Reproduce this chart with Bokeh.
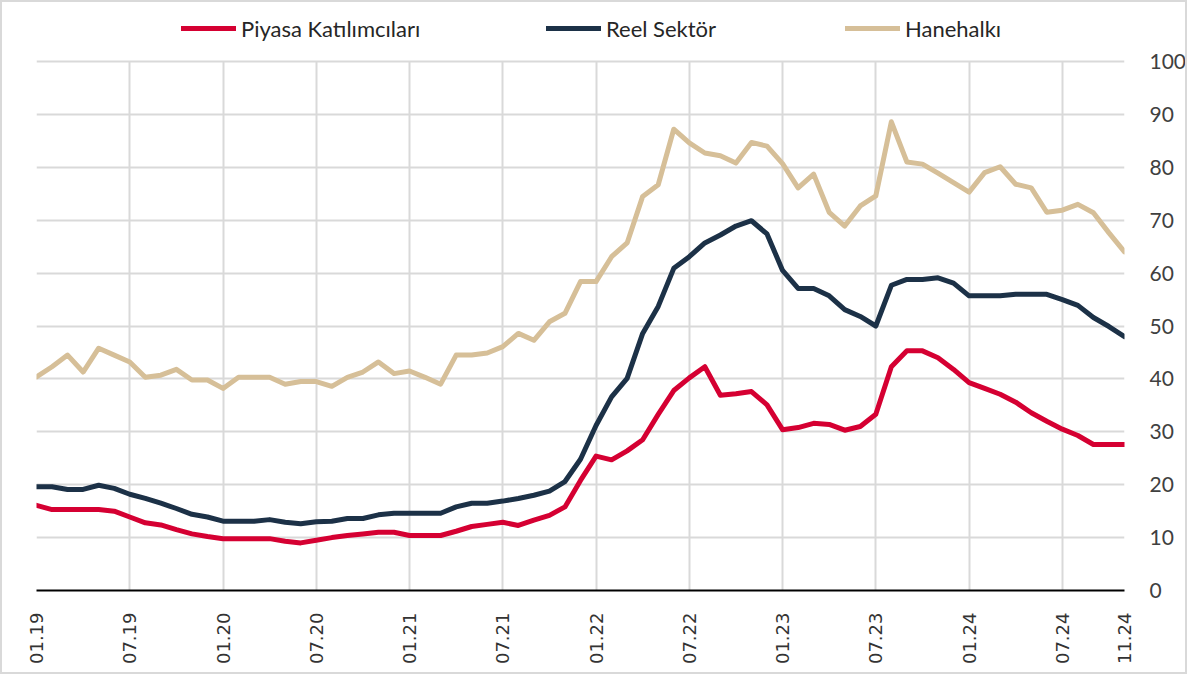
import math
from bokeh.plotting import figure
from bokeh.models import (ColumnDataSource, FixedTicker, Range1d, LinearAxis,
                          Legend, LegendItem)
from bokeh.embed import file_html
from bokeh.resources import INLINE

# ---- data ----
months = [f"{m:02d}.{y}" for y in range(19, 25) for m in range(1, 13)][:71]

tick_labels = ["01.19", "07.19", "01.20", "07.20", "01.21", "07.21", "01.22",
               "07.22", "01.23", "07.23", "01.24", "07.24", "11.24"]
y_ticks = [0, 10, 20, 30, 40, 50, 60, 70, 80, 90, 100]

series_names = ["Piyasa Katılımcıları", "Reel Sektör", "Hanehalkı"]

piyasa = [16.1, 15.3, 15.3, 15.3, 15.3, 15.0, 13.9, 12.8, 12.4, 11.5,
          10.7, 10.2, 9.8, 9.8, 9.8, 9.8, 9.3, 9.0, 9.5, 10.0,
          10.4, 10.7, 11.0, 11.0, 10.4, 10.4, 10.4, 11.2, 12.1, 12.5,
          12.9, 12.3, 13.3, 14.2, 15.8, 20.8, 25.4, 24.7, 26.4, 28.5,
          33.3, 37.8, 40.2, 42.3, 36.9, 37.2, 37.6, 35.1, 30.4, 30.8,
          31.6, 31.4, 30.3, 31.0, 33.3, 42.3, 45.3, 45.3, 44.0, 41.8,
          39.3, 38.2, 37.1, 35.6, 33.6, 32.0, 30.5, 29.3, 27.6, 27.6,
          27.6]

reel = [19.6, 19.6, 19.1, 19.1, 19.9, 19.3, 18.2, 17.4, 16.5, 15.5,
        14.4, 13.9, 13.1, 13.1, 13.1, 13.4, 12.9, 12.6, 13.0, 13.1,
        13.6, 13.6, 14.3, 14.6, 14.6, 14.6, 14.6, 15.8, 16.5, 16.5,
        16.9, 17.4, 18.0, 18.8, 20.6, 24.8, 31.2, 36.6, 40.1, 48.6,
        53.7, 60.9, 63.1, 65.7, 67.2, 68.9, 69.9, 67.4, 60.5, 57.1,
        57.1, 55.7, 53.1, 51.8, 50.0, 57.7, 58.8, 58.8, 59.1, 58.1,
        55.7, 55.7, 55.7, 56.0, 56.0, 56.0, 55.0, 53.9, 51.6, 49.9,
        48.0]

hane = [40.4, 42.3, 44.5, 41.3, 45.8, 44.5, 43.2, 40.3, 40.7, 41.8,
        39.8, 39.8, 38.2, 40.3, 40.3, 40.3, 39.0, 39.5, 39.5, 38.6,
        40.3, 41.3, 43.2, 41.0, 41.5, 40.3, 39.0, 44.5, 44.5, 44.9,
        46.1, 48.6, 47.3, 50.8, 52.4, 58.4, 58.4, 63.1, 65.7, 74.5,
        76.7, 87.2, 84.6, 82.7, 82.2, 80.8, 84.7, 84.0, 80.7, 76.1,
        78.7, 71.5, 68.9, 72.7, 74.6, 88.6, 81.0, 80.6, 78.9, 77.1,
        75.3, 79.0, 80.1, 76.8, 76.1, 71.5, 71.9, 73.0, 71.4, 67.6,
        64.0]

colors = ["#D50032", "#1C3147", "#D6BF98"]

# ---- layout numbers (pixels) ----
W, H = 1187, 674
B_LEFT, B_RIGHT, B_TOP, B_BOTTOM = 34, 64, 0, 86
frame_h = H - B_TOP - B_BOTTOM
top_gap = 59  # pixels between frame top and the 100 line (legend lives here)
y_end = y_ticks[-1] * frame_h / (frame_h - top_gap)

x = list(range(len(months)))
src = ColumnDataSource(dict(x=x, piyasa=piyasa, reel=reel, hane=hane))

p = figure(width=W, height=H, output_backend="svg", toolbar_location=None,
           title=None,
           x_range=Range1d(0, len(months) - 1), y_range=Range1d(0, y_end),
           y_axis_location=None, min_border_left=B_LEFT,
           min_border_right=B_RIGHT, min_border_top=B_TOP,
           min_border_bottom=B_BOTTOM)
p.outline_line_color = None
p.background_fill_color = "white"
p.border_fill_color = "white"
p.styles = {"border": "2px solid #D9D9D9"}

tick_pos = [months.index(t) for t in tick_labels]
grid_pos = [months.index(t) for t in tick_labels if t[:2] in ("01", "07")]

xa = p.xaxis[0]
xa.ticker = FixedTicker(ticks=tick_pos)
xa.major_label_overrides = {months.index(t): t for t in tick_labels}
xa.major_label_orientation = math.pi / 2
xa.major_label_text_font = "DejaVu Sans"
xa.major_label_text_font_size = "18px"
xa.major_label_text_color = "#333333"
xa.major_label_standoff = 16
xa.major_tick_line_color = None
xa.minor_tick_line_color = None
xa.axis_line_color = "black"
xa.axis_line_width = 2

ya = LinearAxis(ticker=FixedTicker(ticks=y_ticks))
ya.axis_line_color = None
ya.major_tick_line_color = None
ya.minor_tick_line_color = None
ya.major_label_text_font = "Lato"
ya.major_label_text_font_size = "21px"
ya.major_label_text_color = "#404040"
ya.major_label_standoff = 19
p.add_layout(ya, "right")

p.ygrid.ticker = FixedTicker(ticks=y_ticks)
p.ygrid.grid_line_color = "#D9D9D9"
p.ygrid.grid_line_width = 2

xg = p.xgrid[0]
if "cross_bounds" in xg.properties():
    xg.ticker = FixedTicker(ticks=grid_pos)
    xg.cross_bounds = (y_ticks[0], y_ticks[-1])
    xg.grid_line_color = "#D9D9D9"
    xg.grid_line_width = 2
else:
    xg.visible = False
    n = len(grid_pos)
    p.segment(x0=grid_pos, x1=grid_pos, y0=[y_ticks[0]] * n,
              y1=[y_ticks[-1]] * n, line_color="#D9D9D9", line_width=2)

renderers = []
for col, c in zip(["piyasa", "reel", "hane"], colors):
    r = p.line("x", col, source=src, line_color=c, line_width=5,
               line_join="round", line_cap="round")
    renderers.append(r)

# three legend entries, each placed in the band above the 100 line
leg_x = [145, 510, 809]
leg_y = frame_h - 40
for name, r, lx in zip(series_names, renderers, leg_x):
    lg = Legend(items=[LegendItem(label=name, renderers=[r])],
                location=(lx, leg_y), orientation="horizontal",
                glyph_width=55, glyph_height=28, label_height=28,
                label_standoff=5, padding=0, margin=0,
                label_text_font="Lato", label_text_font_size="22px",
                label_text_color="#262626", border_line_color=None,
                background_fill_alpha=0)
    p.add_layout(lg, "center")

open("out.html", "w").write(file_html(p, INLINE))
